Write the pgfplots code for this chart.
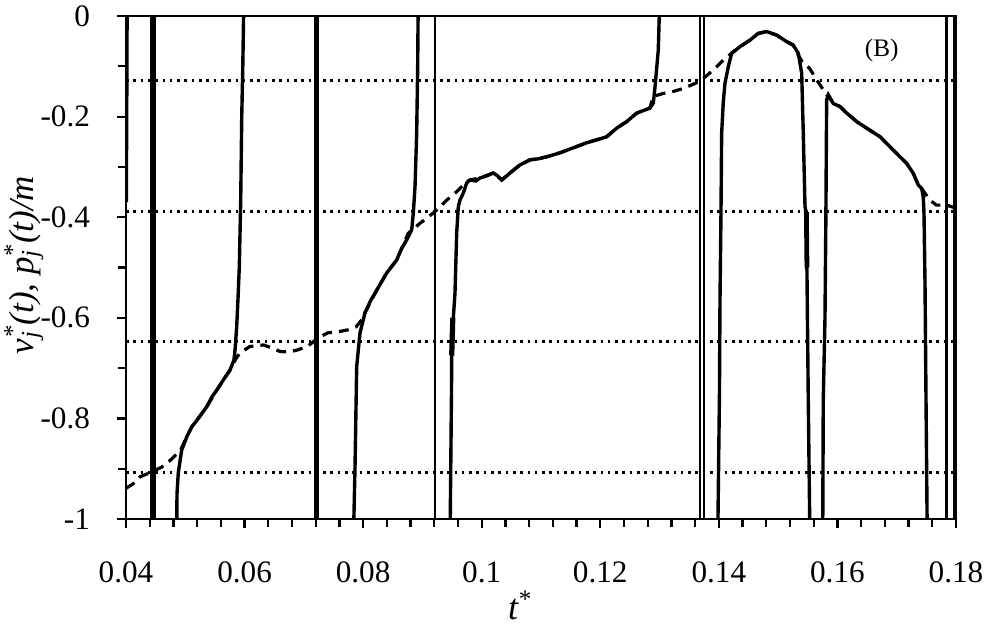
\documentclass[border=0pt]{standalone}
\usepackage{fontspec}
\setmainfont{Liberation Serif}
\usepackage{pgfplots}
\pgfplotsset{compat=1.18}
\newcommand{\tk}[1]{{\fontsize{15.6}{18}\selectfont #1}}
\begin{document}
\begin{tikzpicture}
\begin{axis}[
  name=ax,
  scale only axis,
  width=415pt, height=251.5pt,
  xmin=0.04, xmax=0.18, ymin=-1, ymax=0,
  axis line style={line width=1.3pt},
  /pgf/number format/assume math mode=true,
  xtick={0.04,0.06,0.08,0.1,0.12,0.14,0.16,0.18},
  xticklabels={\tk{0.04},\tk{0.06},\tk{0.08},\tk{0.1},\tk{0.12},\tk{0.14},\tk{0.16},\tk{0.18}},
  ytick={-1,-0.8,-0.6,-0.4,-0.2,0},
  yticklabels={\tk{-1},\tk{-0.8},\tk{-0.6},\tk{-0.4},\tk{-0.2},\tk{0}},
  minor x tick num=4,
  minor y tick num=1,
  tick align=outside,
  xtick pos=bottom, ytick pos=left,
  major tick length=4.5pt, minor tick length=3.8pt,
  every tick/.style={line width=1.1pt, black},
  every x tick label/.append style={anchor=base, yshift=-27pt},
  every y tick label/.append style={anchor=east, xshift=-10pt},
  xlabel={\textit{t}\textsuperscript{*}},
  ylabel={\textit{v\rlap{\textsubscript{j}}\textsuperscript{*}(t), p\rlap{\textsubscript{j}}\textsuperscript{*}(t)/m}},
  every axis x label/.style={at={(axis description cs:0.475,-0.2)}, anchor=base, font=\fontsize{18}{21}\selectfont},
  every axis y label/.style={at={(axis description cs:-0.112,0.505)}, anchor=base, rotate=90, font=\fontsize{17.5}{21}\selectfont},
  clip=true,
]
% dotted reference levels
\foreach \yy in {-0.129,-0.388,-0.648,-0.907}{
  \edef\tmp{\noexpand\addplot[black, line width=1.5pt, dash pattern=on 1.3pt off 2.35pt] coordinates {(0.04,\yy) (0.18,\yy)};}
  \tmp
}
% dashed curve
\addplot[black, line width=1.6pt, dash pattern=on 5pt off 3.5pt] coordinates {
(0.04,-0.939) (0.0412,-0.930) (0.0424,-0.916) (0.0444,-0.906) (0.0460,-0.897) (0.0475,-0.883) (0.0492,-0.863)
(0.05024,-0.837) (0.05108,-0.817) (0.05361,-0.777) (0.05530,-0.744) (0.05754,-0.704) (0.0584,-0.684)
(0.0592,-0.670) (0.0609,-0.657) (0.0632,-0.654) (0.0646,-0.660) (0.0660,-0.667) (0.0675,-0.668) (0.0689,-0.664)
(0.0706,-0.657) (0.0723,-0.641) (0.0740,-0.630) (0.0757,-0.628) (0.0774,-0.624) (0.0788,-0.618) (0.0797,-0.605)
(0.08031,-0.590) (0.08229,-0.545) (0.08397,-0.511) (0.08566,-0.485) (0.0876,-0.432) (0.0896,-0.412)
(0.0918,-0.392) (0.0930,-0.379) (0.0941,-0.366) (0.0958,-0.349) (0.0975,-0.329) (0.09802,-0.326)
(0.09971,-0.322) (0.10196,-0.312) (0.10337,-0.326) (0.10477,-0.312) (0.10646,-0.296) (0.10815,-0.286)
(0.11096,-0.280) (0.11320,-0.272) (0.11545,-0.262) (0.11771,-0.252) (0.12108,-0.240) (0.12276,-0.223)
(0.12445,-0.210) (0.12614,-0.193) (0.12838,-0.183) (0.1289,-0.160) (0.1306,-0.154) (0.1323,-0.150)
(0.1340,-0.144) (0.1360,-0.134) (0.1374,-0.124) (0.1391,-0.107) (0.1408,-0.087) (0.14216,-0.074)
(0.14356,-0.061) (0.14525,-0.048) (0.14665,-0.0345) (0.14807,-0.031) (0.14975,-0.038) (0.15144,-0.051)
(0.15255,-0.058) (0.15340,-0.078) (0.1542,-0.094) (0.1553,-0.104) (0.1565,-0.127) (0.1573,-0.141)
(0.1582,-0.157) (0.15846,-0.157) (0.15930,-0.174) (0.16043,-0.180) (0.16156,-0.193) (0.16325,-0.210)
(0.16493,-0.223) (0.16718,-0.240) (0.16887,-0.260) (0.17055,-0.280) (0.17168,-0.293) (0.17280,-0.313)
(0.17364,-0.336) (0.17421,-0.343) (0.17450,-0.348) (0.1756,-0.366) (0.1767,-0.376) (0.1784,-0.376) (0.1800,-0.382)
};
% vertical lines
\addplot[black, line width=1.4pt] coordinates {(0.0443,-1.1) (0.0443,0.1)};
\addplot[black, line width=1.4pt] coordinates {(0.0448,-1.1) (0.0448,0.1)};
\addplot[black, line width=1.35pt] coordinates {(0.07200,-1.1) (0.07200,0.1)};
\addplot[black, line width=1.35pt] coordinates {(0.07232,-1.1) (0.07232,0.1)};
\addplot[black, line width=1.35pt] coordinates {(0.0921,-1.1) (0.0921,0.1)};
\addplot[black, line width=1.35pt] coordinates {(0.13682,-1.1) (0.13682,0.1)};
\addplot[black, line width=1.35pt] coordinates {(0.13750,-1.1) (0.13750,0.1)};
\addplot[black, line width=1.35pt] coordinates {(0.17843,-1.1) (0.17843,0.1)};
\addplot[black, line width=1.35pt] coordinates {(0.17975,-1.1) (0.17975,0.1)};
% solid curves
\addplot[black, line width=1.7pt] coordinates {(0.04005,-0.37) (0.0401,-0.25) (0.04015,-0.12) (0.0402,0.05)};
\addplot[black, line width=1.7pt] coordinates {
(0.04855,-1.05) (0.04860,-0.95) (0.04882,-0.908) (0.04939,-0.863) (0.05024,-0.837) (0.05108,-0.817) (0.0524,-0.797)
(0.05361,-0.777) (0.05450,-0.757) (0.05530,-0.744) (0.0565,-0.722) (0.05754,-0.704) (0.05820,-0.684) (0.05839,-0.664)
(0.05867,-0.618) (0.05890,-0.56) (0.05911,-0.499) (0.05935,-0.366) (0.05952,-0.201) (0.0597,-0.1) (0.0599,0.05)
};
\addplot[black, line width=1.7pt] coordinates {
(0.07834,-1.05) (0.07863,-0.896) (0.07891,-0.697) (0.07947,-0.630) (0.08031,-0.590) (0.0813,-0.565) (0.08229,-0.545)
(0.08397,-0.511) (0.08566,-0.485) (0.0865,-0.462) (0.08735,-0.445) (0.08819,-0.425) (0.08846,-0.392) (0.08875,-0.339)
(0.08903,-0.233) (0.0892,-0.1) (0.0893,0.05)
};
\addplot[black, line width=1.7pt] coordinates {
(0.09465,-1.05) (0.09490,-0.75) (0.09494,-0.670) (0.09521,-0.60) (0.09549,-0.551) (0.09578,-0.431) (0.09605,-0.379)
(0.09633,-0.366) (0.09689,-0.352) (0.09747,-0.332) (0.09802,-0.326) (0.0990,-0.328) (0.09971,-0.322) (0.1008,-0.318)
(0.10196,-0.312) (0.1027,-0.318) (0.10337,-0.326) (0.1040,-0.320) (0.10477,-0.312) (0.10646,-0.296) (0.10815,-0.286)
(0.1095,-0.284) (0.11096,-0.280) (0.11320,-0.272) (0.11545,-0.262) (0.11771,-0.252) (0.11950,-0.246) (0.12108,-0.240)
(0.12276,-0.223) (0.12445,-0.210) (0.12614,-0.193) (0.12838,-0.183) (0.12894,-0.173) (0.12923,-0.141) (0.12978,-0.068)
(0.13007,0.05)
};
\addplot[black, line width=2.6pt] coordinates {(0.09494,-0.675) (0.09512,-0.60)};
\addplot[black, line width=1.7pt] coordinates {
(0.13980,-1.05) (0.14010,-0.75) (0.14019,-0.565) (0.14035,-0.40) (0.14047,-0.233) (0.14075,-0.17) (0.14103,-0.134)
(0.14159,-0.101) (0.14216,-0.074) (0.14356,-0.061) (0.14525,-0.048) (0.14665,-0.0345) (0.14807,-0.031) (0.14975,-0.038)
(0.15144,-0.051) (0.15255,-0.058) (0.15340,-0.074) (0.15397,-0.114) (0.15424,-0.233) (0.15453,-0.379) (0.15481,-0.398)
(0.15485,-0.498) (0.15508,-0.763) (0.15537,-1.05)
};
\addplot[black, line width=2.4pt] coordinates {(0.15476,-0.39) (0.15486,-0.50)};
\addplot[black, line width=1.7pt] coordinates {
(0.15751,-1.05) (0.15761,-0.763) (0.15790,-0.60) (0.15805,-0.40) (0.15818,-0.167) (0.15846,-0.157) (0.15930,-0.174)
(0.16043,-0.180) (0.16156,-0.193) (0.16325,-0.210) (0.16493,-0.223) (0.16718,-0.240) (0.16887,-0.260) (0.17055,-0.280)
(0.17168,-0.293) (0.17280,-0.313) (0.17364,-0.336) (0.17421,-0.343) (0.17448,-0.360) (0.17460,-0.392) (0.17477,-0.53)
(0.17494,-0.763) (0.17516,-1.05)
};
\node[font=\fontsize{12.6}{15}\selectfont] at (axis cs:0.16746,-0.0676) {(B)};
\end{axis}
\pgfresetboundingbox
\path (ax.south west) ++(-63pt,-54.5pt) coordinate (bl);
\path (ax.north east) ++(16pt,8pt) coordinate (tr);
\path (bl) rectangle (tr);
\end{tikzpicture}
\end{document}
